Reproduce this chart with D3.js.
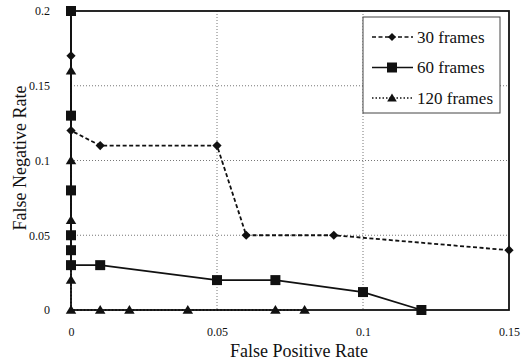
<!DOCTYPE html>
<html>
<head>
<meta charset="utf-8">
<script src="https://cdn.jsdelivr.net/npm/d3@7"></script>
<style>
  html, body { margin: 0; padding: 0; background: #fff; }
  svg { display: block; }
</style>
</head>
<body>
<svg id="chart" width="530" height="364" font-family="Liberation Serif"></svg>
<script>
// Error trade-off curves for three window lengths
const fp30 = [0, 0, 0.01, 0.05, 0.06, 0.09, 0.15];
const fn30 = [0.17, 0.12, 0.11, 0.11, 0.05, 0.05, 0.04];

const fp60 = [0, 0, 0, 0, 0, 0, 0.01, 0.05, 0.07, 0.10, 0.12];
const fn60 = [0.2, 0.13, 0.08, 0.05, 0.04, 0.03, 0.03, 0.02, 0.02, 0.012, 0];

const fp120 = [0, 0, 0, 0, 0, 0.01, 0.02, 0.04, 0.07, 0.08];
const fn120 = [0.16, 0.1, 0.06, 0.02, 0, 0, 0, 0, 0, 0];

const seriesNames = ["30 frames", "60 frames", "120 frames"];
const xTicks = [0, 0.05, 0.1, 0.15];
const yTicks = [0, 0.05, 0.1, 0.15, 0.2];
const xTitle = "False Positive Rate";
const yTitle = "False Negative Rate";

const FONT = "Liberation Serif";

// marker shapes: rotated square, square, triangle
const markerPath = {
  diamond: r => `M0,${-r}L${r},0L0,${r}L${-r},0Z`,
  square: r => `M${-r},${-r}H${r}V${r}H${-r}Z`,
  triangle: r => `M0,${-r}L${r * 1.05},${r * 0.75}L${-r * 1.05},${r * 0.75}Z`
};

const series = [
  { name: seriesNames[0], pts: fp30.map((x, i) => [x, fn30[i]]), dash: "4,2.5", marker: "diamond", r: 4.6, lr: 4 },
  { name: seriesNames[1], pts: fp60.map((x, i) => [x, fn60[i]]), dash: null, marker: "square", r: 5, lr: 5 },
  { name: seriesNames[2], pts: fp120.map((x, i) => [x, fn120[i]]), dash: "1.5,2", marker: "triangle", r: 5, lr: 4.6 }
];

const svg = d3.select("#chart");
const plotL = 71, plotR = 509, plotT = 11, plotB = 310;

const x = d3.scaleLinear().domain([0, 0.15]).range([plotL, plotR]);
const y = d3.scaleLinear().domain([0, 0.2]).range([plotB, plotT]);

// dotted gridlines
const grid = svg.append("g");
grid.selectAll("line.h").data(yTicks.filter(v => v > 0 && v < 0.2)).join("line")
  .attr("class", "h")
  .attr("x1", plotL).attr("x2", plotR)
  .attr("y1", d => y(d)).attr("y2", d => y(d))
  .attr("stroke", "#777").attr("stroke-width", 1).attr("stroke-dasharray", "1,2");
grid.selectAll("line.v").data(xTicks.filter(v => v > 0 && v < 0.15)).join("line")
  .attr("class", "v")
  .attr("y1", plotT).attr("y2", plotB)
  .attr("x1", d => x(d)).attr("x2", d => x(d))
  .attr("stroke", "#777").attr("stroke-width", 1).attr("stroke-dasharray", "1,2");

// plot frame
svg.append("rect")
  .attr("x", plotL).attr("y", plotT)
  .attr("width", plotR - plotL).attr("height", plotB - plotT)
  .attr("fill", "none").attr("stroke", "#111").attr("stroke-width", 1.8);

// axes (labels only, no tick marks)
const xAxis = d3.axisBottom(x).tickValues(xTicks).tickFormat(d3.format("")).tickSize(0).tickPadding(17);
const yAxis = d3.axisLeft(y).tickValues(yTicks).tickFormat(d3.format("")).tickSize(0).tickPadding(21);

const gx = svg.append("g").attr("transform", `translate(0,${plotB})`).call(xAxis);
const gy = svg.append("g").attr("transform", `translate(${plotL},0)`).call(yAxis);
[gx, gy].forEach(g => {
  g.select(".domain").remove();
  g.attr("font-family", FONT).attr("font-size", 12);
  g.selectAll("text").attr("fill", "#111");
});

// axis titles
svg.append("text")
  .attr("x", (plotL + plotR) / 2 + 9).attr("y", 357)
  .attr("text-anchor", "middle")
  .attr("font-family", FONT).attr("font-size", 18).attr("fill", "#111")
  .text(xTitle);
svg.append("text")
  .attr("transform", `translate(26,158) rotate(-90)`)
  .attr("text-anchor", "middle")
  .attr("font-family", FONT).attr("font-size", 18).attr("fill", "#111")
  .text(yTitle);

// series
const line = d3.line().x(d => x(d[0])).y(d => y(d[1]));

series.forEach(s => {
  svg.append("path")
    .datum(s.pts)
    .attr("d", line)
    .attr("fill", "none")
    .attr("stroke", "#111")
    .attr("stroke-width", 1.8)
    .attr("stroke-dasharray", s.dash);
});
series.forEach(s => {
  svg.append("g").selectAll("path").data(s.pts).join("path")
    .attr("transform", d => `translate(${x(d[0])},${y(d[1])})`)
    .attr("d", markerPath[s.marker](s.r))
    .attr("fill", "#111");
});

// legend
const lg = svg.append("g");
lg.append("rect")
  .attr("x", 363).attr("y", 17).attr("width", 137).attr("height", 96)
  .attr("fill", "#fff").attr("stroke", "#444").attr("stroke-width", 1);
series.forEach((s, i) => {
  const cy = 37 + i * 30.5;
  lg.append("line")
    .attr("x1", 372).attr("x2", 413).attr("y1", cy).attr("y2", cy)
    .attr("stroke", "#111").attr("stroke-width", 1.6)
    .attr("stroke-dasharray", s.dash);
  lg.append("path")
    .attr("transform", `translate(392,${cy})`)
    .attr("d", markerPath[s.marker](s.lr))
    .attr("fill", "#111");
  lg.append("text")
    .attr("x", 417).attr("y", cy).attr("dy", "0.35em")
    .attr("font-family", FONT).attr("font-size", 17).attr("fill", "#111")
    .text(s.name);
});
</script>
</body>
</html>
